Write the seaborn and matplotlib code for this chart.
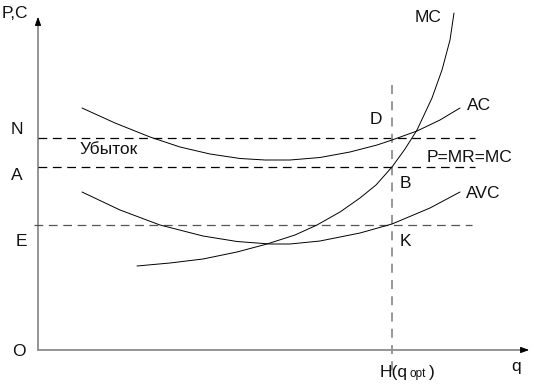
import numpy as np
import seaborn as sns
import matplotlib.pyplot as plt

# curve points (pixel-like units, y grows downwards)
ac_x = [82, 115, 150, 180, 210, 240, 265, 290, 320, 350, 377, 392, 417, 440, 460]
ac_y = [108, 123, 137, 147, 154, 158.5, 160, 160, 157.5, 152, 145, 140, 131, 120, 108]

avc_x = [82, 120, 160, 203, 237, 270, 290, 320, 360, 392, 430, 460]
avc_y = [192, 210, 225, 236, 241.5, 244, 244, 241, 233, 224, 208, 192]

mc_x = [137, 170, 203, 237, 267, 295, 317, 340, 360, 376, 392, 405, 417, 432, 442, 450, 454]
mc_y = [266, 263, 259, 252, 244, 235, 225, 212, 198, 185, 167, 149, 130, 98, 70, 40, 13]

# levels
price_levels = {'N': 138, 'A': 167, 'E': 225}
q_opt = 392
origin = (38, 350)

sns.set_style("white")
plt.rcParams['font.family'] = ['Liberation Sans', 'DejaVu Sans']

fig = plt.figure(figsize=(5.34, 3.86), dpi=100)
ax = fig.add_axes([0, 0, 1, 1])
ax.set_xlim(0, 534)
ax.set_ylim(386, 0)
ax.axis('off')

# axes with arrows
ax.plot([origin[0], origin[0]], [origin[1], 22], color='#8c8c8c', lw=1.3)
ax.plot([origin[0], 524], [origin[1], origin[1]], color='#8c8c8c', lw=1.3)
ax.annotate('', xy=(origin[0], 14), xytext=(origin[0], 24),
            arrowprops=dict(arrowstyle='-|>,head_width=0.18,head_length=0.5', color='black', lw=0.8))
ax.annotate('', xy=(532, origin[1]), xytext=(520, origin[1]),
            arrowprops=dict(arrowstyle='-|>,head_width=0.18,head_length=0.5', color='black', lw=0.8))

# dashed lines
ax.plot([38, 475], [price_levels['N']] * 2, color='black', lw=0.9, dashes=(7, 4.5))
ax.plot([38, 475], [price_levels['A']] * 2, color='black', lw=0.9, dashes=(7, 4.5))
ax.plot([34, 472], [price_levels['E']] * 2, color='#555555', lw=0.9, dashes=(7, 4.5))
ax.plot([q_opt, q_opt], [85, 372], color='#909090', lw=1.3, dashes=(5, 4))

# curves
for xs, ys in [(ac_x, ac_y), (avc_x, avc_y), (mc_x, mc_y)]:
    sns.lineplot(x=xs, y=ys, sort=False, color='black', lw=0.7, ax=ax)

fs = 12.5
labels = [
    ('P,C', 2, 14), ('N', 11, 130), ('A', 11, 175), ('E', 16, 242), ('O', 12, 352),
    ('q', 511, 367), ('D', 370, 120), ('B', 400, 183), ('K', 400, 241),
    ('Убыток', 80, 150), ('P=MR=MC', 427, 157), ('MC', 415, 18),
    ('AC', 467, 106), ('AVC', 466, 193), ('H(q', 380, 372), (')', 429, 372),
]
for txt, x, y in labels:
    ax.text(x, y, txt, fontsize=fs, ha='left', va='center', color='#111111')
ax.text(410, 374, 'opt', fontsize=8.5, ha='left', va='center', color='#111111')

fig.savefig('out.png', dpi=100)
